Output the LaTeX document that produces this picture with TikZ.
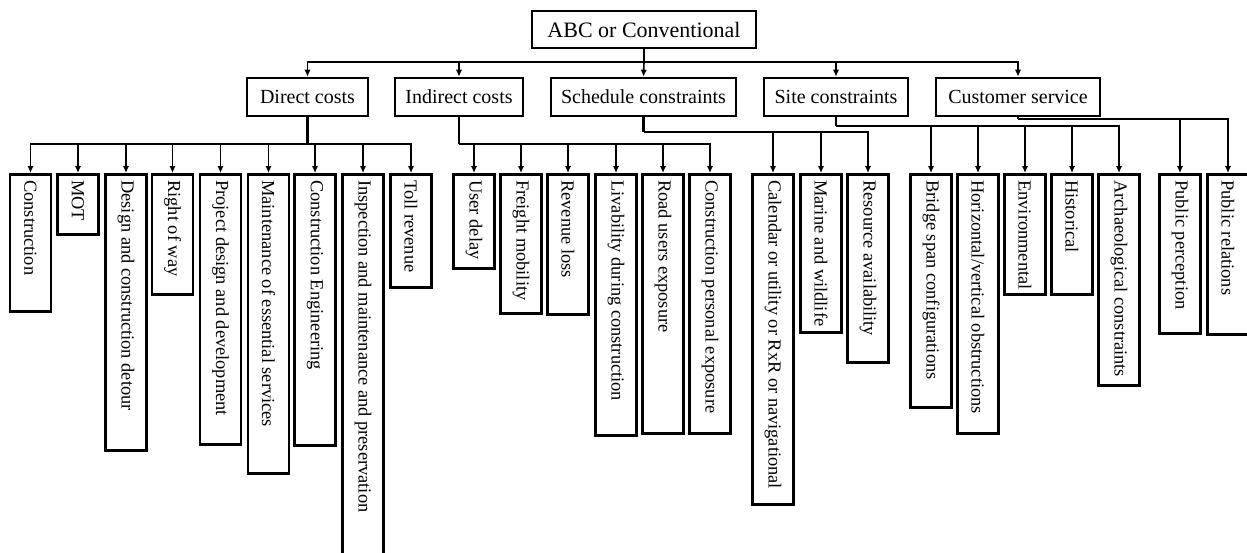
\documentclass[tikz,border=0pt]{standalone}
\usepackage{fontspec}
\setmainfont{Liberation Serif}
\usetikzlibrary{arrows.meta}
\tikzset{
 box/.style={draw, line width=1.3pt, inner sep=0pt, font=\fontsize{10}{12}\selectfont},
 leaf/.style={draw, line width=1.3pt, rotate=-90, anchor=west, inner xsep=3pt, inner ysep=0pt,
   minimum height=20.5pt, font=\fontsize{9.2}{11}\selectfont,
   execute at begin node={\hbox to \dimexpr(#1pt-173pt)/2-6pt\relax\bgroup},
   execute at end node={\hfil\egroup}},
 arr/.style={line width=0.8pt, -{Latex[length=3.5pt,width=3.2pt]}},
 drop/.style={line width=1.3pt}
}
\begin{document}
\begin{tikzpicture}[x=0.5pt,y=-0.5pt]
\useasboundingbox (0,0) rectangle (1247,552);
% top
\node[box, minimum width=112pt, minimum height=18.5pt, font=\fontsize{11}{13}\selectfont] (top) at (644,29.5) {ABC or Conventional};
% second level
\node[box, minimum width=60.5pt, minimum height=19pt] (dc) at (307.5,97) {Direct costs};
\node[box, minimum width=64pt, minimum height=19pt] (ic) at (459,97) {Indirect costs};
\node[box, minimum width=92.5pt, minimum height=19pt] (sc) at (643.5,97) {Schedule constraints};
\node[box, minimum width=72pt, minimum height=19pt] (st) at (836,97) {Site constraints};
\node[box, minimum width=82pt, minimum height=19pt] (cs) at (1018,97) {Customer service};
% direct leaves
\node[leaf=310] (d1) at (30.5,173) {Construction};
\node[leaf=233] (d2) at (78,173) {MOT};
\node[leaf=449] (d3) at (126,173) {Design and construction detour};
\node[leaf=293] (d4) at (172.5,173) {Right of way};
\node[leaf=443] (d5) at (220.5,173) {Project design and development};
\node[leaf=472] (d6) at (268.5,173) {Maintenance of essential services};
\node[leaf=444] (d7) at (315,173) {Construction Engineering};
\node[leaf=562] (d8) at (363,173) {Inspection and maintenance and preservation};
\node[leaf=286] (d9) at (411,173) {Toll revenue};
% indirect leaves
\node[leaf=267] (i1) at (474,173) {User delay};
\node[leaf=312] (i2) at (521,173) {Freight mobility};
\node[leaf=313] (i3) at (568,173) {Revenue loss};
\node[leaf=434] (i4) at (616,173) {Livability during construction};
\node[leaf=432] (i5) at (663,173) {Road users exposure};
\node[leaf=432] (i6) at (710,173) {Construction personal exposure};
% schedule leaves
\node[leaf=503] (s1) at (773,173) {Calendar or utility or RxR or navigational};
\node[leaf=331] (s2) at (821,173) {Marine and wildlife};
\node[leaf=361] (s3) at (868,173) {Resource availability};
% site leaves
\node[leaf=406] (t1) at (931,173) {Bridge span configurations};
\node[leaf=432] (t2) at (978,173) {Horizontal/vertical obstructions};
\node[leaf=293] (t3) at (1025,173) {Environmental};
\node[leaf=293] (t4) at (1072,173) {Historical};
\node[leaf=384] (t5) at (1119,173) {Archaeological constraints};
% customer leaves
\node[leaf=332] (c1) at (1180,173) {Public perception};
\node[leaf=333] (c2) at (1228,173) {Public relations};
% connectors top
\coordinate (b0) at (644,62);
\draw[drop] (top.south) -- (b0);
\foreach \n in {dc,ic,st,cs} \draw[arr] (b0) -| (\n.north);
\draw[arr] (b0) -- (sc.north);
% direct
\coordinate (bd) at (307.5,144);
\draw[drop] (dc.south) -- (bd);
\foreach \n in {d1,d2,d3,d4,d5,d6,d7,d8,d9} \draw[arr] (bd) -| (\n.west);
% indirect
\coordinate (bi) at (459,144);
\draw[drop] (ic.south) -- (bi);
\foreach \n in {i1,i2,i3,i4,i5,i6} \draw[arr] (bi) -| (\n.west);
% schedule
\coordinate (bs) at (643.5,132);
\draw[drop] (sc.south) -- (bs);
\foreach \n in {s1,s2,s3} \draw[arr] (bs) -| (\n.west);
% site
\coordinate (bt) at (836,126);
\draw[drop] (st.south) -- (bt);
\foreach \n in {t1,t2,t3,t4,t5} \draw[arr] (bt) -| (\n.west);
% customer
\coordinate (bc) at (1018,119);
\draw[drop] (cs.south) -- (bc);
\foreach \n in {c1,c2} \draw[arr] (bc) -| (\n.west);
\end{tikzpicture}
\end{document}
